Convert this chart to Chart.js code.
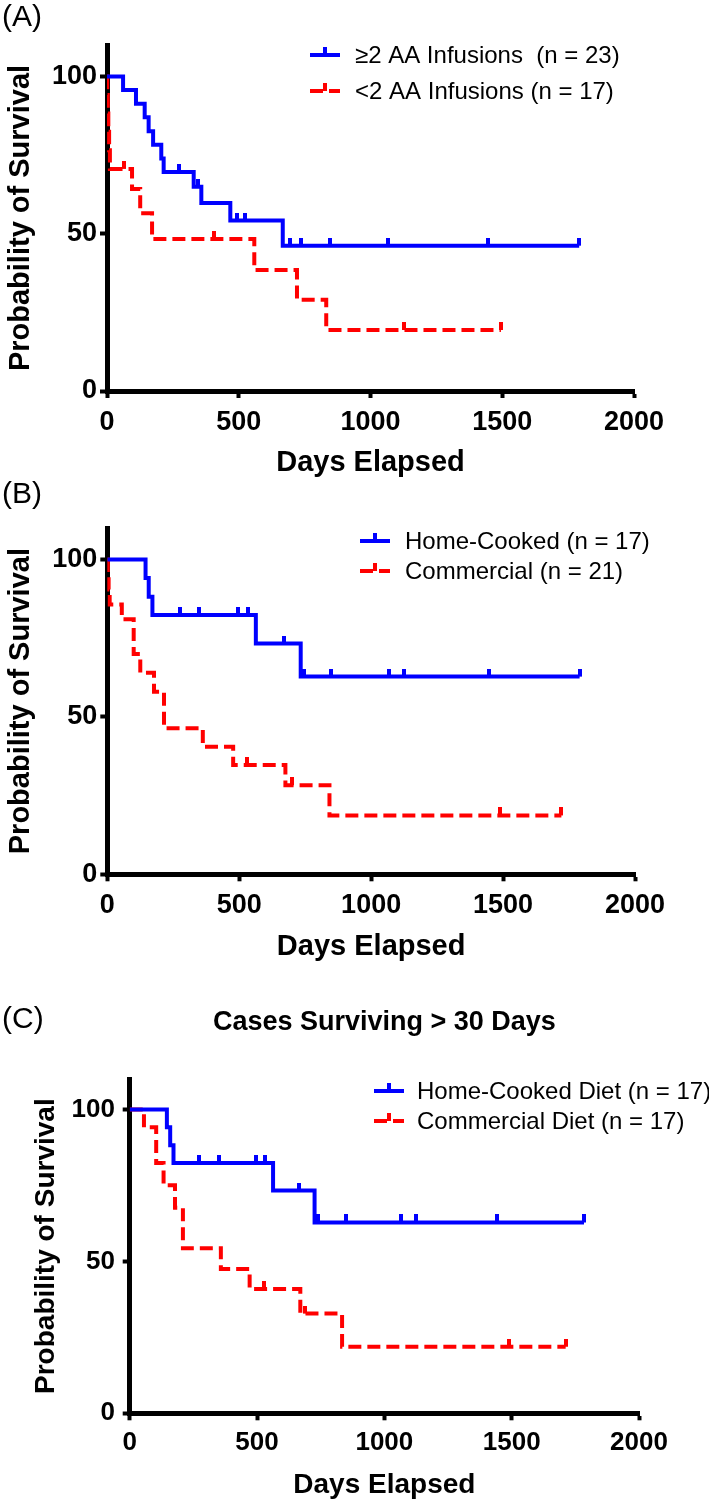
<!DOCTYPE html>
<html><head><meta charset="utf-8">
<script src="https://cdn.jsdelivr.net/npm/chart.js@4.4.1/dist/chart.umd.min.js"></script>
<style>
html,body{margin:0;padding:0;background:#fff;}
#wrap{position:relative;width:709px;height:1502px;overflow:hidden;background:#fff;}
canvas{position:absolute;left:0;}
</style></head><body>
<div id="wrap">
<canvas id="cA" width="709" height="480" style="top:0px"></canvas>
<canvas id="cB" width="709" height="505" style="top:480px"></canvas>
<canvas id="cC" width="709" height="517" style="top:985px"></canvas>
</div>
<script>
const FONT = "'Liberation Sans', Arial, Helvetica, sans-serif";
const xTicks = [0, 500, 1000, 1500, 2000];
const yTicks = [0, 50, 100];
const xTitle = 'Days Elapsed';
const yTitle = 'Probability of Survival';

// Panel A
const aBlueLabel = '\u22652 AA Infusions  (n = 23)';
const aBlueDays = [0, 61, 110, 143, 158, 175, 206, 215, 329, 358, 468, 667, 1792];
const aBlueSurv = [100, 95.7, 91.3, 87.0, 82.6, 78.3, 73.9, 69.6, 64.9, 59.8, 54.2, 46.2, 46.2];
const aBlueCensor = [275, 345, 493, 525, 694, 736, 847, 1066, 1446, 1792];
const aRedLabel = '<2 AA Infusions (n = 17)';
const aRedDays = [0, 1, 3, 5, 8, 11, 95, 126, 171, 559, 721, 832, 1495];
const aRedSurv = [100, 94.1, 88.2, 82.4, 76.5, 70.6, 64.2, 56.5, 48.3, 38.5, 29.0, 19.4, 19.4];
const aRedCensor = [66, 407, 1128, 1495];

// Panel B
const bBlueLabel = 'Home-Cooked (n = 17)';
const bBlueDays = [0, 145, 157, 171, 563, 733, 1790];
const bBlueSurv = [100, 94.1, 88.2, 82.4, 73.3, 62.8, 62.8];
const bBlueCensor = [275, 349, 496, 535, 669, 746, 847, 1066, 1125, 1445, 1790];
const bRedLabel = 'Commercial (n = 21)';
const bRedDays = [0, 2, 5, 9, 55, 100, 125, 177, 215, 362, 477, 675, 842, 1721];
const bRedSurv = [100, 95.2, 90.5, 85.7, 81.0, 70.0, 64.0, 58.0, 46.4, 40.5, 34.7, 28.3, 18.7, 18.7];
const bRedCensor = [528, 700, 1487, 1721];

// Panel C
const cTitle = 'Cases Surviving > 30 Days';
const cBlueLabel = 'Home-Cooked Diet (n = 17)';
const cBlueDays = [0, 146, 159, 172, 563, 726, 1784];
const cBlueSurv = [100, 94.1, 88.2, 82.4, 73.3, 62.8, 62.8];
const cBlueCensor = [274, 349, 497, 533, 664, 739, 848, 1066, 1125, 1444, 1784];
const cRedLabel = 'Commercial Diet (n = 17)';
const cRedDays = [0, 56, 104, 133, 178, 209, 358, 471, 670, 834, 1712];
const cRedSurv = [100, 94.1, 82.4, 75.0, 67.6, 54.3, 47.5, 40.9, 32.8, 21.9, 21.9];
const cRedCensor = [526, 690, 1490, 1712];

const BLUE = '#0000ff';
const RED = '#ff0000';
const RED_DASH = [13, 6];

function survAt(days, surv, t) {
  let s = surv[0];
  for (let i = 0; i < days.length; i++) if (days[i] <= t) s = surv[i];
  return s;
}
function makeTick(color) {
  const c = document.createElement('canvas');
  c.width = 4; c.height = 16;
  const g = c.getContext('2d');
  g.fillStyle = color; g.fillRect(0, 0, 4, 8);
  return c;
}

const kmLegend = {
  id: 'kmLegend',
  afterDraw(chart, args, o) {
    const ctx = chart.ctx;
    ctx.save();
    const items = chart.data.datasets.filter(d => d.kmLegend);
    items.forEach((d, i) => {
      const y = o.y + i * o.gap;
      const ly = y - 1;
      ctx.strokeStyle = d.borderColor; ctx.lineWidth = 4;
      ctx.setLineDash(d.borderDash || []);
      ctx.beginPath(); ctx.moveTo(o.x, ly); ctx.lineTo(o.x + 30, ly); ctx.stroke();
      ctx.setLineDash([]);
      ctx.fillStyle = d.borderColor;
      ctx.fillRect(o.x + 13, ly - 8, 4, 8);
      ctx.fillStyle = '#000';
      ctx.font = o.size + 'px ' + FONT;
      ctx.textBaseline = 'middle'; ctx.textAlign = 'left';
      ctx.fillText(d.label, o.x + o.textOff, y);
    });
    ctx.restore();
  }
};
const panelText = {
  id: 'panelText',
  afterDraw(chart, args, o) {
    const ctx = chart.ctx;
    ctx.save();
    ctx.fillStyle = '#000';
    ctx.textBaseline = 'middle';
    ctx.textAlign = 'left';
    ctx.font = o.letterSize + 'px ' + FONT;
    ctx.fillText(o.letter, o.lx, o.ly);
    if (o.title) {
      ctx.font = 'bold ' + o.titleSize + 'px ' + FONT;
      ctx.textAlign = 'center';
      const a = chart.chartArea;
      ctx.fillText(o.title, (a.left + a.right) / 2, o.ty);
    }
    ctx.restore();
  }
};

function build(id, cfg) {
  const datasets = [];
  cfg.series.forEach(s => {
    datasets.push({
      label: s.label, kmLegend: true,
      data: s.days.map((d, i) => ({x: d, y: s.surv[i]})),
      borderColor: s.color, backgroundColor: s.color, borderWidth: 4,
      borderDash: s.dash || [], stepped: 'before', pointRadius: 0, fill: false, tension: 0
    });
    datasets.push({
      label: s.label + ' (censored)',
      data: s.censor.map(t => ({x: t, y: survAt(s.days, s.surv, t)})),
      showLine: false, pointStyle: makeTick(s.color), pointRadius: 4,
      borderColor: s.color, backgroundColor: s.color
    });
  });
  const tickFont = {family: FONT, size: cfg.tickSize, weight: 'bold'};
  const titleFont = {family: FONT, size: cfg.titleSize, weight: 'bold'};
  return new Chart(document.getElementById(id), {
    type: 'line',
    data: {datasets},
    options: {
      responsive: false, animation: false, events: [],
      layout: {padding: cfg.pad},
      plugins: {
        legend: {display: false}, tooltip: {enabled: false},
        kmLegend: cfg.legend, panelText: cfg.text
      },
      scales: {
        x: {
          type: 'linear', min: 0, max: 2000,
          afterBuildTicks: sc => { sc.ticks = xTicks.map(v => ({value: v})); },
          afterFit: sc => { sc.height = cfg.xH; },
          grid: {drawOnChartArea: false, drawTicks: true, tickLength: 7, tickWidth: 4, tickColor: '#000', color: '#000'},
          border: {display: true, width: 5, color: '#000'},
          ticks: {color: '#000', font: tickFont, padding: cfg.xPad, maxRotation: 0, autoSkip: false, callback: v => String(v)},
          title: {display: true, text: xTitle, color: '#000', font: titleFont, padding: {top: 0, bottom: cfg.xTitlePad}}
        },
        y: {
          type: 'linear', min: 0, max: 110,
          afterBuildTicks: sc => { sc.ticks = yTicks.map(v => ({value: v})); },
          afterFit: sc => { sc.width = cfg.yW; },
          grid: {drawOnChartArea: false, drawTicks: true, tickLength: 7, tickWidth: 4, tickColor: '#000', color: '#000'},
          border: {display: true, width: 5, color: '#000'},
          ticks: {color: '#000', font: tickFont, padding: cfg.yPad, autoSkip: false, callback: v => String(v)},
          title: {display: true, text: yTitle, color: '#000', font: titleFont, padding: {top: cfg.yTitlePad, bottom: 0}}
        }
      }
    },
    plugins: [kmLegend, panelText]
  });
}

build('cA', {
  series: [
    {label: aBlueLabel, days: aBlueDays, surv: aBlueSurv, censor: aBlueCensor, color: BLUE},
    {label: aRedLabel, days: aRedDays, surv: aRedSurv, censor: aRedCensor, color: RED, dash: RED_DASH}
  ],
  pad: {top: 45, left: 0, right: 75, bottom: 0},
  xH: 89, yW: 107, xPad: 8, yPad: 3, xTitlePad: 0, yTitlePad: 4,
  tickSize: 27, titleSize: 29,
  legend: {x: 310, y: 56, gap: 36, size: 24, textOff: 45},
  text: {letter: '(A)', lx: 2, ly: 18, letterSize: 30}
});
build('cB', {
  series: [
    {label: bBlueLabel, days: bBlueDays, surv: bBlueSurv, censor: bBlueCensor, color: BLUE},
    {label: bRedLabel, days: bRedDays, surv: bRedSurv, censor: bRedCensor, color: RED, dash: RED_DASH}
  ],
  pad: {top: 48, left: 0, right: 74, bottom: 0},
  xH: 110.7, yW: 107.3, xPad: 8.5, yPad: 3, xTitlePad: 21, yTitlePad: 4,
  tickSize: 27, titleSize: 29,
  legend: {x: 360, y: 62, gap: 30, size: 24, textOff: 45},
  text: {letter: '(B)', lx: 2, ly: 15, letterSize: 30}
});
build('cC', {
  series: [
    {label: cBlueLabel, days: cBlueDays, surv: cBlueSurv, censor: cBlueCensor, color: BLUE},
    {label: cRedLabel, days: cRedDays, surv: cRedSurv, censor: cRedCensor, color: RED, dash: RED_DASH}
  ],
  pad: {top: 94, left: 25, right: 70, bottom: 0},
  xH: 88.7, yW: 104.7, xPad: 7.4, yPad: 7.7, xTitlePad: 0, yTitlePad: 4,
  tickSize: 26, titleSize: 28,
  legend: {x: 374, y: 107, gap: 30, size: 24, textOff: 43},
  text: {letter: '(C)', lx: 2, ly: 35, letterSize: 30, title: cTitle, ty: 38, titleSize: 27}
});
</script>
</body></html>
